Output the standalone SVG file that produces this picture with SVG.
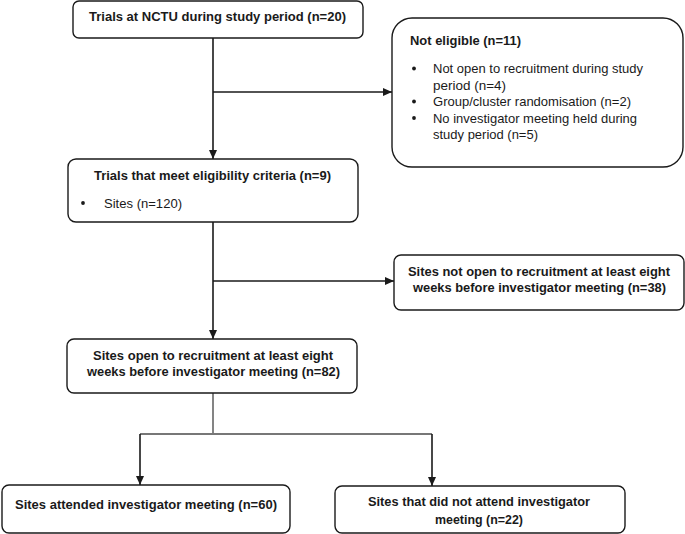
<svg xmlns="http://www.w3.org/2000/svg" width="685" height="534" viewBox="0 0 685 534">
<style>
.box{fill:#fff;stroke:#1a1a1a;stroke-width:1.4}
.b{font-family:"Liberation Sans",Arial,sans-serif;font-weight:bold;font-size:13.5px;fill:#1a1a1a}
.r{font-family:"Liberation Sans",Arial,sans-serif;font-size:13.5px;fill:#1a1a1a}
.c{text-anchor:middle}
.ln{fill:none;stroke:#1a1a1a;stroke-width:1.6}
.gl{fill:none;stroke:#777;stroke-width:1.8}
.dot{fill:#1a1a1a}
</style>
<defs>
<marker id="ah" markerUnits="userSpaceOnUse" markerWidth="9" markerHeight="9" viewBox="0 0 9 9" refX="9" refY="4.5" orient="auto">
<path d="M0,0.5 L9,4.5 L0,8.5 Z" fill="#1a1a1a"/>
</marker>
</defs>
<rect width="685" height="534" fill="#fff"/>
<g id="connectors">
<path class="ln" d="M213,38 V159" marker-end="url(#ah)"/>
<path class="ln" d="M213,92 H392" marker-end="url(#ah)"/>
<path class="ln" d="M213,222 V339" marker-end="url(#ah)"/>
<path class="ln" d="M213,281 H394" marker-end="url(#ah)"/>
<path class="gl" d="M213,393 V434"/>
<path class="gl" d="M140,434 H432"/>
<path class="ln" d="M140,434 V485" marker-end="url(#ah)"/>
<path class="ln" d="M432,434 V486" marker-end="url(#ah)"/>
</g>
<g id="n1">
<rect class="box" x="73" y="1" width="290" height="37" rx="6"/>
<text class="b c" x="217.5" y="20.5" textLength="257" lengthAdjust="spacingAndGlyphs">Trials at NCTU during study period (n=20)</text>
</g>
<g id="n2">
<rect class="box" x="392" y="18" width="291" height="149" rx="20"/>
<text class="b" x="410" y="45" textLength="111" lengthAdjust="spacingAndGlyphs">Not eligible (n=11)</text>
<circle class="dot" cx="414" cy="68.5" r="1.9"/>
<circle class="dot" cx="414" cy="101.5" r="1.9"/>
<circle class="dot" cx="414" cy="118" r="1.9"/>
<text class="r" x="433" y="73" textLength="210" lengthAdjust="spacingAndGlyphs">Not open to recruitment during study</text>
<text class="r" x="433" y="89.5" textLength="73" lengthAdjust="spacingAndGlyphs">period (n=4)</text>
<text class="r" x="433" y="106" textLength="198" lengthAdjust="spacingAndGlyphs">Group/cluster randomisation (n=2)</text>
<text class="r" x="433" y="122.5" textLength="204" lengthAdjust="spacingAndGlyphs">No investigator meeting held during</text>
<text class="r" x="433" y="139" textLength="105" lengthAdjust="spacingAndGlyphs">study period (n=5)</text>
</g>
<g id="n3">
<rect class="box" x="68" y="159" width="290" height="63" rx="8"/>
<text class="b c" x="212.5" y="180" textLength="237" lengthAdjust="spacingAndGlyphs">Trials that meet eligibility criteria (n=9)</text>
<circle class="dot" cx="83" cy="203" r="1.9"/>
<text class="r" x="104" y="207.5" textLength="78" lengthAdjust="spacingAndGlyphs">Sites (n=120)</text>
</g>
<g id="n4">
<rect class="box" x="394" y="255" width="290" height="55" rx="7"/>
<text class="b c" x="539" y="276" textLength="262" lengthAdjust="spacingAndGlyphs">Sites not open to recruitment at least eight</text>
<text class="b c" x="539.5" y="292" textLength="253" lengthAdjust="spacingAndGlyphs">weeks before investigator meeting (n=38)</text>
</g>
<g id="n5">
<rect class="box" x="67" y="339" width="290" height="54" rx="7"/>
<text class="b c" x="213" y="360" textLength="240" lengthAdjust="spacingAndGlyphs">Sites open to recruitment at least eight</text>
<text class="b c" x="213.5" y="375.5" textLength="253" lengthAdjust="spacingAndGlyphs">weeks before investigator meeting (n=82)</text>
</g>
<g id="n6">
<rect class="box" x="2" y="485" width="288" height="48" rx="7"/>
<text class="b c" x="146" y="509" textLength="262" lengthAdjust="spacingAndGlyphs">Sites attended investigator meeting (n=60)</text>
</g>
<g id="n7">
<rect class="box" x="335" y="486" width="290" height="47" rx="7"/>
<text class="b c" x="479" y="506" textLength="222" lengthAdjust="spacingAndGlyphs">Sites that did not attend investigator</text>
<text class="b c" x="479" y="523.5" textLength="88" lengthAdjust="spacingAndGlyphs">meeting (n=22)</text>
</g>
</svg>
